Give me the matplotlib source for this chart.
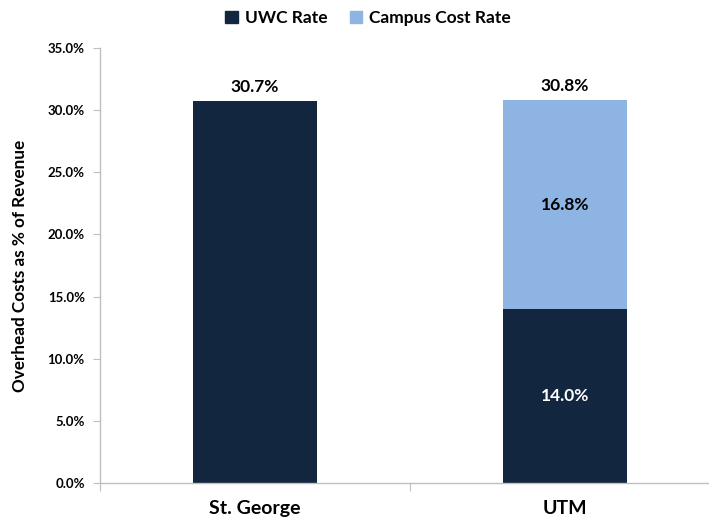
import matplotlib
matplotlib.use("Agg")
import matplotlib.pyplot as plt
from matplotlib.ticker import FuncFormatter, FixedLocator
from matplotlib.patches import Patch

categories = ["St. George", "UTM"]
uwc_rate = [30.7, 14.0]
campus_rate = [0.0, 16.8]
totals = [30.7, 30.8]
series_names = ["UWC Rate", "Campus Cost Rate"]

dark = "#12263F"
light = "#8EB4E3"
font = "Lato"

fig = plt.figure(figsize=(7.09, 5.27), dpi=100)
W, H = 709, 527
ax = fig.add_axes([100 / W, (527 - 483) / H, 620 / W, 435 / H])

x = list(range(len(categories)))
ax.bar(x, uwc_rate, width=0.4, color=dark, zorder=2)
ax.bar(x, campus_rate, width=0.4, bottom=uwc_rate, color=light, zorder=2)

ax.set_xlim(-0.5, 1.5)
ax.set_ylim(0, 35)
ax.yaxis.set_major_locator(FixedLocator([i * 5 for i in range(8)]))
ax.yaxis.set_major_formatter(FuncFormatter(lambda v, p: f"{v:.1f}%"))

for s in ["top", "right"]:
    ax.spines[s].set_visible(False)
for s in ["left", "bottom"]:
    ax.spines[s].set_color("#BFBFBF")
    ax.spines[s].set_linewidth(1.0)

ax.set_xticks([-0.5, 0.5, 1.5])
ax.set_xticklabels([])
ax.set_xticks(x, minor=True)
ax.set_xticklabels(categories, minor=True, fontsize=14, fontweight="bold",
                   family=font)
ax.tick_params(axis="x", which="major", direction="out", length=6,
               color="#BFBFBF")
ax.tick_params(axis="x", which="minor", length=0, pad=12)
ax.tick_params(axis="y", direction="out", length=5, color="#BFBFBF",
               labelsize=9.5, pad=6)
for t in ax.get_yticklabels():
    t.set_fontweight("bold")
    t.set_family(font)

ax.set_ylabel("Overhead Costs as % of Revenue", fontsize=12.3,
              fontweight="bold", family=font, labelpad=14)

for i in x:
    ax.text(i, totals[i] + 0.5, f"{totals[i]:.1f}%", ha="center", va="bottom",
            fontsize=12.5, fontweight="bold", family=font)
    if campus_rate[i] > 0:
        ax.text(i, uwc_rate[i] + campus_rate[i] / 2, f"{campus_rate[i]:.1f}%",
                ha="center", va="center", fontsize=12.5, fontweight="bold",
                family=font, color="black")
        ax.text(i, uwc_rate[i] / 2, f"{uwc_rate[i]:.1f}%", ha="center",
                va="center", fontsize=12.5, fontweight="bold", family=font,
                color="white")

handles = [Patch(color=dark), Patch(color=light)]
fig.legend(handles, series_names, loc="center", bbox_to_anchor=(368 / W, 1 - 18 / H),
           ncol=2, frameon=False, prop={"family": font, "weight": "bold", "size": 12.5},
           handlelength=0.7, handleheight=0.7, handletextpad=0.4, columnspacing=1.3)

fig.savefig("out.png", dpi=100)
